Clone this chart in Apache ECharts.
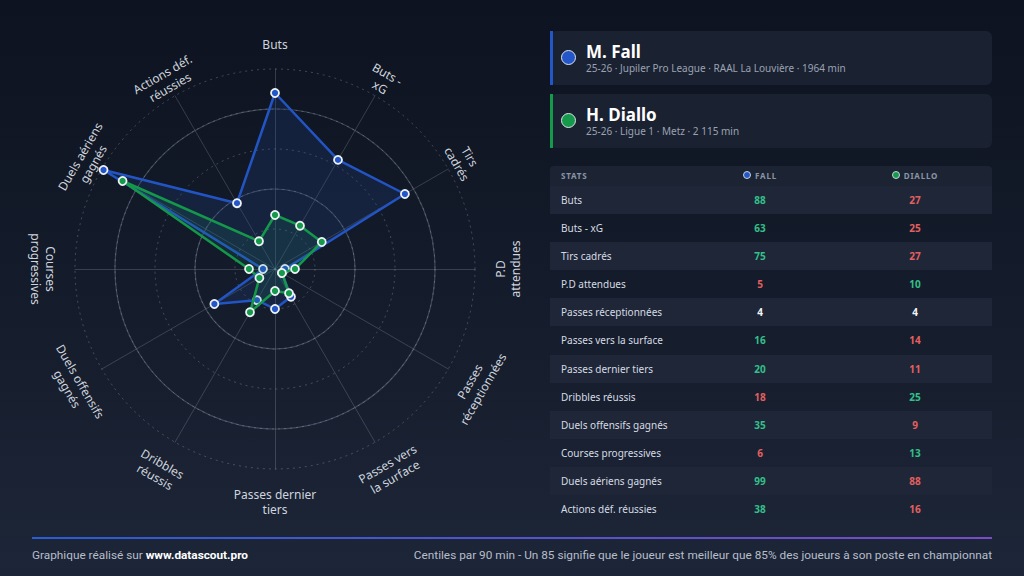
<!DOCTYPE html>
<html><head><meta charset="utf-8">
<script src="https://cdn.jsdelivr.net/npm/echarts@6/dist/echarts.min.js"></script>
<style>
html,body{margin:0;padding:0;width:1024px;height:576px;overflow:hidden;font-family:"Noto Sans",sans-serif;}
body{background:linear-gradient(180deg,#0d1320 0%,#141b2a 50%,#1d2638 100%);}
#chart{position:absolute;left:0;top:0;width:1024px;height:576px;}
.card{position:absolute;left:550px;width:442px;height:54px;background:#1a2131;border-radius:6px;box-sizing:border-box;}
.card .bar{position:absolute;left:0;top:0;bottom:0;width:3px;}
.card .dot{position:absolute;left:11px;top:19px;width:15px;height:15px;border-radius:50%;border:1.5px solid #dfe4ec;box-sizing:border-box;}
.card .nm{position:absolute;left:36px;top:11px;font-weight:700;font-size:17px;color:#fff;line-height:20px;}
.card .sub{position:absolute;left:36px;top:31px;font-size:10px;color:#9aa3b2;line-height:12px;}
#tbl{position:absolute;left:550px;top:166px;width:442px;}
.row{position:relative;height:28.1px;font-size:10px;color:#d6dbe3;}
.row span{position:absolute;top:0;line-height:28px;}
.hdr{height:20px;background:#1c2434;border-radius:4px 4px 0 0;font-size:8px;color:#8b94a4;letter-spacing:0.8px;font-weight:700;}
.hdr span{line-height:20px;}
.l{left:11px;}
.c1{left:150px;width:120px;text-align:center;font-weight:700;}
.c2{left:305px;width:120px;text-align:center;font-weight:700;}
.hd{display:inline-block;width:6px;height:6px;border-radius:50%;border:1px solid #c9d0da;margin-right:4px;vertical-align:0px;}
#foot{position:absolute;left:32px;top:537px;width:960px;height:2px;background:linear-gradient(90deg,#2a5cd2,#7a4bc6);}
.ft{position:absolute;top:548px;font-size:11.8px;color:#b7beca;font-family:"Roboto",sans-serif;}
</style></head>
<body>
<div id="chart"></div>
<div id="panel"></div>
<div id="foot"></div>
<div class="ft" style="left:32px;">Graphique réalisé sur <b style="color:#fff">www.datascout.pro</b></div>
<div class="ft" style="right:32px;">Centiles par 90 min - Un 85 signifie que le joueur est meilleur que 85% des joueurs à son poste en championnat</div>
<script>
// ---- data ----
const statNames = ["Buts","Buts - xG","Tirs cadrés","P.D attendues","Passes réceptionnées","Passes vers la surface","Passes dernier tiers","Dribbles réussis","Duels offensifs gagnés","Courses progressives","Duels aériens gagnés","Actions déf. réussies"];
const axisLabels = ["Buts","Buts -\nxG","Tirs\ncadrés","P.D\nattendues","Passes\nréceptionnées","Passes vers\nla surface","Passes dernier\ntiers","Dribbles\nréussis","Duels offensifs\ngagnés","Courses\nprogressives","Duels aériens\ngagnés","Actions déf.\nréussies"];
const fallValues = [88,63,75,5,4,16,20,18,35,6,99,38];
const dialloValues = [27,25,27,10,4,14,11,25,9,13,88,16];
const players = [
  {name:"M. Fall", short:"FALL", info:"25-26 · Jupiler Pro League · RAAL La Louvière · 1964 min", color:"#2356c8"},
  {name:"H. Diallo", short:"DIALLO", info:"25-26 · Ligue 1 · Metz · 2 115 min", color:"#15994a"}
];

// ---- panel ----
const panel = document.getElementById('panel');
players.forEach((p,i)=>{
  const c=document.createElement('div');c.className='card';c.style.top=(31+i*63)+'px';
  c.innerHTML=`<div class="bar" style="background:${p.color}"></div><div class="dot" style="background:${p.color}"></div><div class="nm">${p.name}</div><div class="sub">${p.info}</div>`;
  panel.appendChild(c);
});
const tbl=document.createElement('div');tbl.id='tbl';
let h=`<div class="row hdr"><span class="l">STATS</span><span class="c1"><i class="hd" style="background:${players[0].color}"></i>${players[0].short}</span><span class="c2"><i class="hd" style="background:${players[1].color}"></i>${players[1].short}</span></div>`;
const GREEN='#33c08a',RED='#e2605f',NEU='#f2f4f7';
statNames.forEach((s,i)=>{
  const a=fallValues[i],b=dialloValues[i];
  const ca=a>b?GREEN:(a<b?RED:NEU), cb=b>a?GREEN:(b<a?RED:NEU);
  h+=`<div class="row" style="background:${i%2===0?'#1e2637':'transparent'}"><span class="l">${s}</span><span class="c1" style="color:${ca}">${a}</span><span class="c2" style="color:${cb}">${b}</span></div>`;
});
tbl.innerHTML=h;panel.appendChild(tbl);

// ---- radar ----
const CX=275, CY=269, R=200;
const n=statNames.length;
// ECharts radar goes counter-clockwise: reorder so the chart reads clockwise
const order=[0]; for(let i=n-1;i>0;i--) order.push(i);
const indicators=order.map(i=>({name:statNames[i],max:100}));

const labelGraphics=axisLabels.map((t,i)=>{
  const th=i*360/n;
  const rad=th*Math.PI/180;
  const rl=225;
  const x=CX+rl*Math.sin(rad), y=CY-rl*Math.cos(rad);
  let cw=(th<90||th>270)?th:th-180;
  return {type:'text',x:x,y:y,rotation:-cw*Math.PI/180,silent:true,
    style:{text:t,x:0,y:-7.5,align:'center',verticalAlign:'top',lineHeight:15,
      fill:'#cfd5de',font:'12px "Noto Sans", sans-serif'}};
});

const chart=echarts.init(document.getElementById('chart'),null,{renderer:'svg'});
chart.setOption({
  animation:false,
  backgroundColor:'transparent',
  radar:[{
    center:[CX,CY],radius:R,startAngle:90,shape:'circle',splitNumber:5,
    indicator:indicators,
    axisName:{show:false},
    splitArea:{show:false},
    splitLine:{lineStyle:{color:'rgba(190,200,215,0.28)',type:[2,4],width:1}},
    axisLine:{lineStyle:{color:'rgba(190,200,215,0.22)',width:1}},
    axisTick:{show:false},axisLabel:{show:false}
  },{
    center:[CX,CY],radius:R*0.8,startAngle:90,shape:'circle',splitNumber:2,
    indicator:indicators,
    axisName:{show:false},
    splitArea:{show:false},
    splitLine:{lineStyle:{color:'rgba(190,200,215,0.26)',type:'solid',width:1.2}},
    axisLine:{show:false},axisTick:{show:false},axisLabel:{show:false}
  }],
  graphic:labelGraphics,
  series:[{
    type:'radar',radarIndex:0,symbol:'circle',symbolSize:8,z:3,
    data:[{name:players[0].name,value:order.map(i=>fallValues[i])}],
    lineStyle:{color:players[0].color,width:2.5},
    itemStyle:{color:players[0].color,borderColor:'#eef2f7',borderWidth:1.8},
    areaStyle:{color:'rgba(35,75,160,0.28)'}
  },{
    type:'radar',radarIndex:0,symbol:'circle',symbolSize:8,z:4,
    data:[{name:players[1].name,value:order.map(i=>dialloValues[i])}],
    lineStyle:{color:players[1].color,width:2.5},
    itemStyle:{color:players[1].color,borderColor:'#eef2f7',borderWidth:1.8},
    areaStyle:{color:'rgba(25,140,95,0.22)'}
  }]
});
</script>
</body></html>
